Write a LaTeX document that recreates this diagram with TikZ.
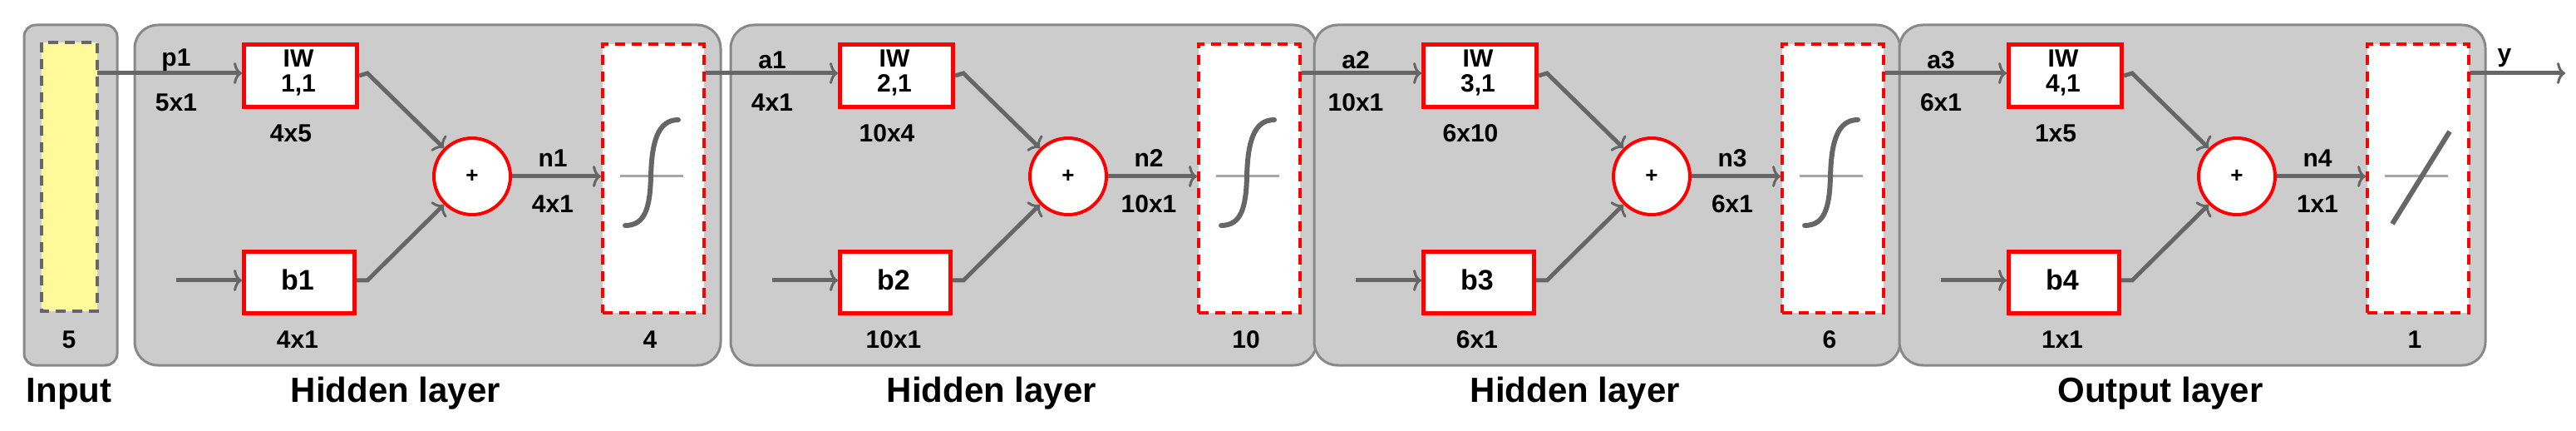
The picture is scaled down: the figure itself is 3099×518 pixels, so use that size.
\documentclass[tikz,border=0pt]{standalone}
\usepackage{fontspec}
\setmainfont{Liberation Sans}
\usetikzlibrary{arrows.meta}
\definecolor{lay}{HTML}{CCCCCC}
\definecolor{bord}{HTML}{888888}
\definecolor{wire}{HTML}{666666}
\begin{document}
\begin{tikzpicture}[x=1pt,y=-1pt,
  layerbox/.style={draw=bord,fill=lay,line width=3pt,rounded corners=28pt},
  redbox/.style={draw=red,fill=white,line width=5pt},
  actbox/.style={draw=red,fill=white,line width=4pt,dash pattern=on 12pt off 8pt},
  wireln/.style={draw=wire,line width=5pt},
  arr/.style={wireln,-{To[length=10pt,width=26pt,line width=3pt]}},
  lbl/.style={font=\bfseries\fontsize{30}{32}\selectfont,inner sep=0pt},
  big/.style={font=\bfseries\fontsize{42}{44}\selectfont,inner sep=0pt}]
\useasboundingbox (0,0) rectangle (3099,518);
% input
\draw[layerbox,rounded corners=14pt] (29,30) rectangle (141,439);
\draw[fill=yellow!40,draw=wire,line width=4pt,dash pattern=on 12pt off 8pt] (50,51) rectangle (117,374);
\coordinate (in0) at (117,88);
\node[lbl] (n5) at (83,408) {5};
\node[big] (inlab) at (83,473) {Input};
\foreach \k/\ox/\inl/\ins/\w/\ws/\b/\bs/\nn/\ns/\sz/\lay in {
 1/162/p1/5x1/{IW\\[-2pt]1,1}/4x5/b1/4x1/n1/4x1/4/Hidden layer,
 2/879/a1/4x1/{IW\\[-2pt]2,1}/10x4/b2/10x1/n2/10x1/10/Hidden layer,
 3/1581/a2/10x1/{IW\\[-2pt]3,1}/6x10/b3/6x1/n3/6x1/6/Hidden layer,
 4/2285/a3/6x1/{IW\\[-2pt]4,1}/1x5/b4/1x1/n4/1x1/1/Output layer}{
 \begin{scope}[xshift=\ox]
 \draw[layerbox] (0,30) rectangle (705,439);
 \node[redbox,minimum width=136pt,minimum height=75pt,anchor=north west,inner sep=0pt] (iw\k) at (129,51) {};
 \node[lbl,align=center] (iwt\k) at (197,88) {\w};
 \node[redbox,minimum width=133pt,minimum height=74pt,anchor=north west,inner sep=0pt] (b\k) at (129,300) {};
 \node[lbl,font=\bfseries\fontsize{34}{36}\selectfont] (bt\k) at (196,336) {\b};
 \node[draw=red,fill=white,line width=4pt,circle,minimum size=92pt,inner sep=0pt] (s\k) at (406,212) {};
 \node[font=\bfseries\fontsize{26}{26}\selectfont] (pl\k) at (406,212) {+};
 \node[actbox,minimum width=122pt,minimum height=323pt,anchor=north west] (a\k) at (561,51) {};
 \coordinate (bin\k) at (50,337);
 \coordinate (wc\k) at (280,88);
 \coordinate (bc\k) at (280,337);
 \node[lbl] (il\k) at (50,72) {\inl};
 \node[lbl] (is\k) at (50,123) {\ins};
 \node[lbl] (ws\k) at (188,160) {\ws};
 \node[lbl] (bs\k) at (196,408) {\bs};
 \node[lbl] (nn\k) at (503,190) {\nn};
 \node[lbl] (ns\k) at (503,245) {\ns};
 \node[lbl] (sz\k) at (620,408) {\sz};
 \node[big] (ll\k) at (314,473) {\lay};
 \draw[arr] (bin\k) -- (b\k.west |- bin\k);
 \draw[arr] (iw\k.east) -- (wc\k) -- (s\k.north west);
 \draw[arr] (b\k.east |- bc\k) -- (bc\k) -- (s\k.south west);
 \draw[arr] (s\k.east) -- (a\k.west |- s\k.east);
 \draw[draw=gray!70,line width=3pt] (584,212) -- (660,212);
 \ifnum\k<4
 \draw[wire,line width=6pt,line cap=round] (590,271) .. controls (614,271) and (620,250) .. (621,212) .. controls (622,174) and (628,144) .. (654,144);
 \else
 \draw[wire,line width=6pt] (593,269) -- (662,158);
 \fi
 \end{scope}
}
\draw[arr] (in0) -- (iw1.west |- in0);
\draw[arr] (a1.east |- in0) -- (iw2.west |- in0);
\draw[arr] (a2.east |- in0) -- (iw3.west |- in0);
\draw[arr] (a3.east |- in0) -- (iw4.west |- in0);
\coordinate (yend) at (3086,88);
\draw[arr] (a4.east |- in0) -- (yend);
\node[lbl] (ylab) at (3013,70) {y};
\end{tikzpicture}
\end{document}
